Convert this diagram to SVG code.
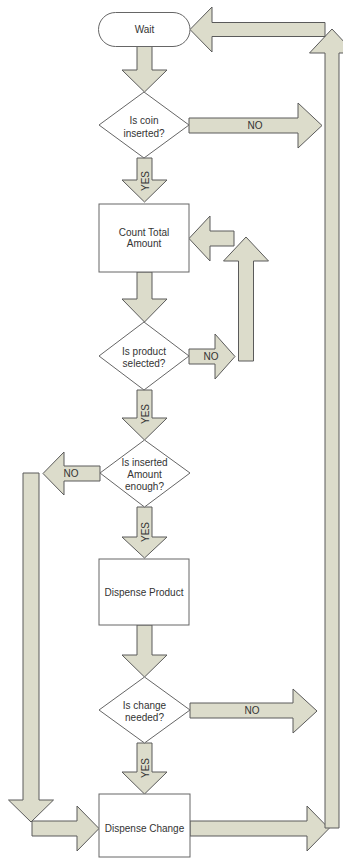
<svg xmlns="http://www.w3.org/2000/svg" width="343" height="860" viewBox="0 0 343 860">
<style>
.arr{fill:#DCDCCB;stroke:#5a5a5a;stroke-width:1;stroke-linejoin:miter}
.node{fill:#ffffff;stroke:#666666;stroke-width:1}
.t{font-family:"Liberation Sans",Arial,sans-serif;font-size:10px;fill:#333333;text-anchor:middle}
</style>
<rect width="343" height="860" fill="#ffffff"/>
<g id="connectors">
  <!-- Wait -> coin -->
  <polygon class="arr" points="137,46 152,46 152,70 167,70 144.5,92 122,70 137,70"/>
  <!-- NO coin -> right -->
  <polygon class="arr" points="189,118 298,118 298,103 322,125.5 298,148 298,133 189,133"/>
  <text class="t" x="255" y="128.5">NO</text>
  <!-- YES coin -> count -->
  <polygon class="arr" points="137,158 152,158 152,180 167,180 144.5,202 122,180 137,180"/>
  <text class="t" transform="translate(148.5,181) rotate(-90)">YES</text>
  <!-- loop back into Count -->
  <polygon class="arr" points="234,231 210,231 210,216 189,238.5 210,261 210,246 234,246"/>
  <!-- up arrow from NO product -->
  <polygon class="arr" points="238.5,361 238.5,261 223.5,261 246,237 268.5,261 253.5,261 253.5,361"/>
  <!-- Count -> product -->
  <polygon class="arr" points="137,272 152,272 152,299 167,299 144.5,322 122,299 137,299"/>
  <!-- NO product -->
  <polygon class="arr" points="189,349 215,349 215,334 235,356.5 215,379 215,364 189,364"/>
  <text class="t" x="211" y="360">NO</text>
  <!-- YES product -> amount -->
  <polygon class="arr" points="137,390 152,390 152,418 167,418 144.5,440 122,418 137,418"/>
  <text class="t" transform="translate(148.5,414) rotate(-90)">YES</text>
  <!-- NO amount (left) -->
  <polygon class="arr" points="100,466 64,466 64,452 43,473.5 64,495 64,481 100,481"/>
  <text class="t" x="71" y="477">NO</text>
  <!-- left vertical down -->
  <polygon class="arr" points="23,473 39,473 39,800 53.5,800 31,822 8.5,800 23,800"/>
  <!-- into Dispense Change -->
  <polygon class="arr" points="32,821 77,821 77,806 99,828.5 77,851 77,836 32,836"/>
  <!-- YES amount -> dispense product -->
  <polygon class="arr" points="137,507 152,507 152,537 167,537 144.5,558 122,537 137,537"/>
  <text class="t" transform="translate(148.5,532) rotate(-90)">YES</text>
  <!-- Dispense Product -> change -->
  <polygon class="arr" points="137,625 152,625 152,655 167,655 144.5,677 122,655 137,655"/>
  <!-- NO change -->
  <polygon class="arr" points="190,703 293,703 293,689 317,711 293,733 293,718 190,718"/>
  <text class="t" x="252" y="714">NO</text>
  <!-- YES change -> Dispense Change -->
  <polygon class="arr" points="137,743 152,743 152,772 167,772 144.5,794 122,772 137,772"/>
  <text class="t" transform="translate(148.5,768) rotate(-90)">YES</text>
  <!-- Dispense Change -> right -->
  <polygon class="arr" points="190,821 307,821 307,806 329,828.5 307,851 307,836 190,836"/>
  <!-- right vertical up -->
  <polygon class="arr" points="325,828 325,53 309.5,53 332,29 354.5,53 339,53 339,828"/>
  <!-- back to Wait -->
  <polygon class="arr" points="325,22.5 212,22.5 212,7 190,29.5 212,52 212,36.5 325,36.5"/>
</g>
<g id="wait">
  <rect class="node" x="98.5" y="12.5" width="91.5" height="34" rx="17" ry="17"/>
  <text class="t" x="144.5" y="33">Wait</text>
</g>
<g id="coin">
  <polygon class="node" points="144,92 189,125 144,158 99,125"/>
  <text class="t" x="144" y="123.5">Is coin</text>
  <text class="t" x="144" y="136.5">inserted?</text>
</g>
<g id="count">
  <rect class="node" x="99" y="204" width="90" height="68"/>
  <text class="t" x="144" y="235.5">Count Total</text>
  <text class="t" x="144" y="247">Amount</text>
</g>
<g id="product">
  <polygon class="node" points="144,322 189,356 144,390 99,356"/>
  <text class="t" x="144" y="354.5">Is product</text>
  <text class="t" x="144" y="366.5">selected?</text>
</g>
<g id="amount">
  <polygon class="node" points="144.5,440 190,473 144.5,507 100,473"/>
  <text class="t" x="144.5" y="465.5">Is inserted</text>
  <text class="t" x="144.5" y="477.5">Amount</text>
  <text class="t" x="144.5" y="490">enough?</text>
</g>
<g id="dispense-product">
  <rect class="node" x="99" y="559" width="90" height="66"/>
  <text class="t" x="144" y="595.5">Dispense Product</text>
</g>
<g id="change">
  <polygon class="node" points="144.5,677 190,710 144.5,743 99,710"/>
  <text class="t" x="144.5" y="708.5">Is change</text>
  <text class="t" x="144.5" y="720.5">needed?</text>
</g>
<g id="dispense-change">
  <rect class="node" x="99" y="794" width="91" height="63"/>
  <text class="t" x="144.5" y="831.5">Dispense Change</text>
</g>
</svg>
